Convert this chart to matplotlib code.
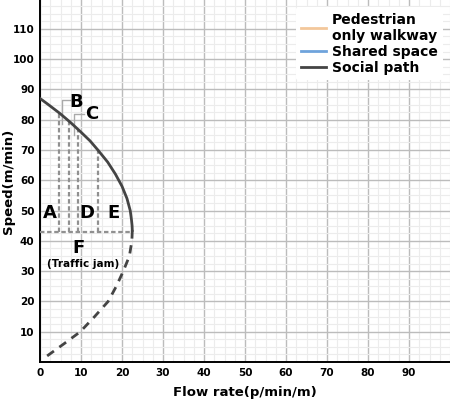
import matplotlib
matplotlib.use("Agg")
import matplotlib.pyplot as plt
from matplotlib.ticker import MultipleLocator

# social path curve (flow, speed)
flow_free = [0, 2.0, 4.9, 7.5, 9.9, 12.2, 14.1, 16.5, 18.4, 20.0, 21.2, 22.0, 22.3, 22.45, 22.5]
speed_free = [87, 85, 82, 79, 76, 73, 70, 66, 62, 58, 54, 50, 47, 45, 43.5]
flow_jam = [22.5, 22.4, 21.8, 20.3, 18.6, 16.6, 13.3, 9.8, 5.8, 1.7]
speed_jam = [43.5, 40, 35, 30, 25, 20, 15, 10, 6, 2]

# level of service boundaries (flow, speed at the curve)
los_flow = [4.6, 7.15, 9.35, 14.1]
los_speed = [82.4, 79.2, 76.8, 70.2]
jam_speed = 43
jam_flow = 22.5

letters = ["A", "B", "C", "D", "E", "F"]
letter_x = [2.4, 8.9, 12.6, 11.5, 17.9, 9.3]
letter_y = [49.3, 85.7, 81.8, 49.2, 49.2, 37.6]

fig = plt.figure(figsize=(4.5, 4.05), dpi=100)
ax = fig.add_axes([0.089, 0.106, 0.911, 0.894])

ax.plot([], [], color="#f3c79b", lw=2, label="Pedestrian\nonly walkway")
ax.plot([], [], color="#6fa3dc", lw=2, label="Shared space")
ax.plot(flow_free, speed_free, color="#444444", lw=2, label="Social path", zorder=5)
ax.plot(flow_jam, speed_jam, color="#444444", lw=2, ls=(0, (3, 2.4)), zorder=5)

# dashed guide lines
ax.plot([0, jam_flow], [jam_speed, jam_speed], color="#909090", lw=1.6, ls=(0, (2, 1.2)), zorder=4)
for q, v in zip(los_flow, los_speed):
    ax.plot([q, q], [jam_speed, v], color="#909090", lw=1.6, ls=(0, (2, 1.2)), zorder=4)

# little pointers to B and C
ax.plot([5.4, 5.4, 7.3], [78.5, 86.4, 86.4], color="#aaaaaa", lw=1, zorder=4)
ax.plot([8.4, 8.4, 10.6], [74.8, 82.0, 82.0], color="#aaaaaa", lw=1, zorder=4)

for t, x, y in zip(letters, letter_x, letter_y):
    ax.text(x, y, t, fontsize=13, fontweight="bold", ha="center", va="center", zorder=6)
ax.text(10.4, 32.5, "(Traffic jam)", fontsize=7.5, fontweight="bold", ha="center",
        va="center", zorder=6)

ax.set_xlim(0, 100)
ax.set_ylim(0, 119.5)
ax.xaxis.set_minor_locator(MultipleLocator(2.5))
ax.yaxis.set_minor_locator(MultipleLocator(2.5))
ax.set_xticks(range(0, 100, 10))
ax.set_yticks(range(10, 120, 10))
ax.grid(which="major", color="#bcbcbc", lw=1)
ax.grid(which="minor", color="#ececec", lw=0.8)
ax.set_axisbelow(True)
ax.tick_params(which="both", length=0, labelsize=7.5, pad=4)
for lab in ax.get_xticklabels() + ax.get_yticklabels():
    lab.set_fontweight("bold")

for s in ["top", "right"]:
    ax.spines[s].set_visible(False)
for s in ["left", "bottom"]:
    ax.spines[s].set_linewidth(1.4)

ax.set_xlabel("Flow rate(p/min/m)", fontsize=9.5, fontweight="bold")
ax.set_ylabel("Speed(m/min)", fontsize=9.5, fontweight="bold")
ax.xaxis.set_label_coords(0.5, -0.065)
ax.yaxis.set_label_coords(-0.062, 0.5)

leg = ax.legend(loc="upper right", frameon=True, fontsize=10, handlelength=1.8,
                handletextpad=0.4, labelspacing=0.15, borderaxespad=0.5)
leg.get_frame().set_edgecolor("none")
leg.get_frame().set_facecolor("white")
leg.get_frame().set_alpha(1)
for t in leg.get_texts():
    t.set_fontweight("bold")

fig.savefig("out.png")
